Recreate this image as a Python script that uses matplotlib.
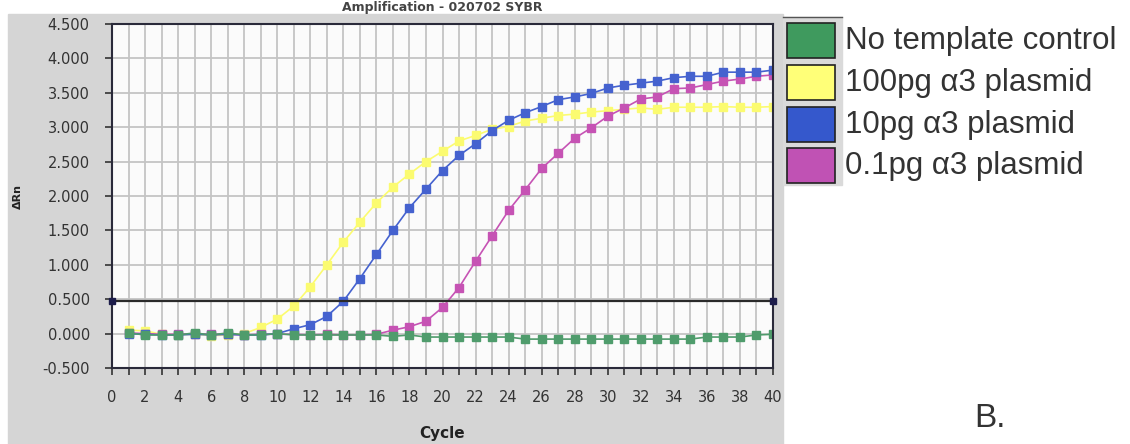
import matplotlib
matplotlib.use('Agg')
import matplotlib.pyplot as plt
from matplotlib.patches import Rectangle

W, H = 1130, 444

cycles = list(range(1, 41))
ntc = [0.01, -0.02, -0.02, -0.02, 0.01, -0.02, 0.01, -0.02, -0.02, 0.0,
       -0.02, -0.02, -0.02, -0.02, -0.02, -0.02, -0.04, -0.02, -0.05, -0.05,
       -0.05, -0.05, -0.05, -0.05, -0.08, -0.08, -0.08, -0.08, -0.08, -0.08,
       -0.08, -0.08, -0.08, -0.08, -0.08, -0.05, -0.05, -0.05, -0.02, -0.01]
pg100 = [0.05, 0.04, -0.01, -0.02, -0.01, -0.03, -0.02, 0.0, 0.09, 0.21,
         0.40, 0.68, 1.00, 1.33, 1.62, 1.90, 2.13, 2.32, 2.50, 2.65,
         2.80, 2.88, 2.97, 3.01, 3.09, 3.13, 3.17, 3.19, 3.22, 3.24,
         3.26, 3.28, 3.26, 3.29, 3.29, 3.29, 3.30, 3.29, 3.29, 3.30]
pg10 = [0.0, -0.01, -0.02, -0.02, -0.01, -0.02, -0.01, -0.02, -0.02, 0.0,
        0.07, 0.13, 0.25, 0.47, 0.80, 1.15, 1.50, 1.83, 2.10, 2.37,
        2.59, 2.76, 2.95, 3.10, 3.21, 3.30, 3.40, 3.44, 3.49, 3.57,
        3.61, 3.64, 3.67, 3.72, 3.74, 3.74, 3.80, 3.80, 3.80, 3.83]
pg01 = [0.01, 0.0, -0.01, -0.01, 0.0, -0.01, -0.01, -0.02, -0.01, -0.01,
        -0.01, -0.02, -0.01, -0.02, -0.02, -0.01, 0.05, 0.10, 0.18, 0.38,
        0.67, 1.05, 1.42, 1.79, 2.09, 2.40, 2.62, 2.84, 2.99, 3.16,
        3.28, 3.41, 3.44, 3.56, 3.57, 3.62, 3.67, 3.70, 3.74, 3.76]
threshold = 0.48

labels = ['No template control', '100pg \u03b13 plasmid',
          '10pg \u03b13 plasmid', '0.1pg \u03b13 plasmid']
line_cols = ['#4f9c6c', '#fbfb70', '#4562cf', '#c653b4']
swatch_cols = ['#3f9a5e', '#ffff78', '#3558cc', '#c052b4']

plt.rcParams['font.family'] = ['DejaVu Sans']

fig = plt.figure(figsize=(W / 100, H / 100), dpi=100)
fig.patch.set_facecolor('white')

# grey chart window behind the plot
fig.add_artist(Rectangle((8 / W, 0), (783 - 8) / W, 1 - 14 / H,
                         transform=fig.transFigure, color='#d5d5d5', zorder=0))
# strip behind the legend swatches
fig.add_artist(Rectangle((783 / W, 1 - 185 / H), 59 / W, 168 / H,
                         transform=fig.transFigure, color='#dadada', zorder=0))
fig.add_artist(plt.Line2D([783 / W, 842 / W], [1 - 17 / H, 1 - 17 / H],
                          transform=fig.transFigure, color='#555555', lw=1))

ax = fig.add_axes([112 / W, 1 - 368 / H, (773 - 112) / W, (368 - 24) / H])
ax.set_facecolor('#fbfbfb')

ax.plot(cycles, pg100, color=line_cols[1], marker='s', ms=6, lw=1.2, mec=line_cols[1])
ax.plot(cycles, pg01, color=line_cols[3], marker='s', ms=6, lw=1.2, mec=line_cols[3])
ax.plot(cycles, pg10, color=line_cols[2], marker='s', ms=6, lw=1.2, mec=line_cols[2])
ax.plot(cycles, ntc, color=line_cols[0], marker='s', ms=6, lw=1.2, mec=line_cols[0])

ax.axhline(threshold, color='#2a2a2a', lw=1.6, zorder=5)
ax.plot([0, 40], [threshold, threshold], ls='none', marker='s', ms=5,
        color='#1c1c4a', clip_on=False, zorder=6)

ax.set_xlim(0, 40)
ax.set_ylim(-0.5, 4.5)
ax.set_xticks(range(0, 41))
ax.set_xticklabels([str(c) if c % 2 == 0 else '' for c in range(0, 41)])
yt = [-0.5 + 0.5 * i for i in range(11)]
ax.set_yticks(yt)
ax.set_yticklabels(['%.3f' % v for v in yt])
ax.grid(True, color='#c4c4c4', lw=1.3)
ax.set_axisbelow(True)
ax.tick_params(axis='both', direction='out', length=5, width=1.2,
               color='#333333', labelsize=10.5, labelcolor='#333333')
ax.tick_params(axis='x', pad=11)
ax.tick_params(axis='y', pad=11)
for s in ax.spines.values():
    s.set_color('#2a2a3a')
    s.set_linewidth(1.5)

ax.set_xlabel('Cycle', fontsize=11, fontweight='bold', labelpad=15, color='#222222')
ax.set_ylabel('\u0394Rn', fontsize=8, fontweight='bold', labelpad=14, color='#222222')

fig.text(442 / W, 1 - 8 / H, 'Amplification - 020702 SYBR', ha='center',
         va='center', fontsize=9, fontweight='bold', color='#444444')

# legend with colour swatches
sw_top = [23, 65, 107, 148]
for top, col, lab in zip(sw_top, swatch_cols, labels):
    fig.add_artist(Rectangle((787 / W, 1 - (top + 35) / H), 48 / W, 35 / H,
                             transform=fig.transFigure, facecolor=col,
                             edgecolor='#222222', lw=1.2, zorder=2))
    fig.text(845 / W, 1 - (top + 18) / H, lab, ha='left', va='center',
             fontsize=22.5, color='#333333', family='Liberation Sans')

fig.text(990 / W, 1 - 418 / H, 'B.', ha='center', va='center',
         fontsize=24, color='#333333', family='Liberation Sans')

fig.savefig('out.png', dpi=100)
